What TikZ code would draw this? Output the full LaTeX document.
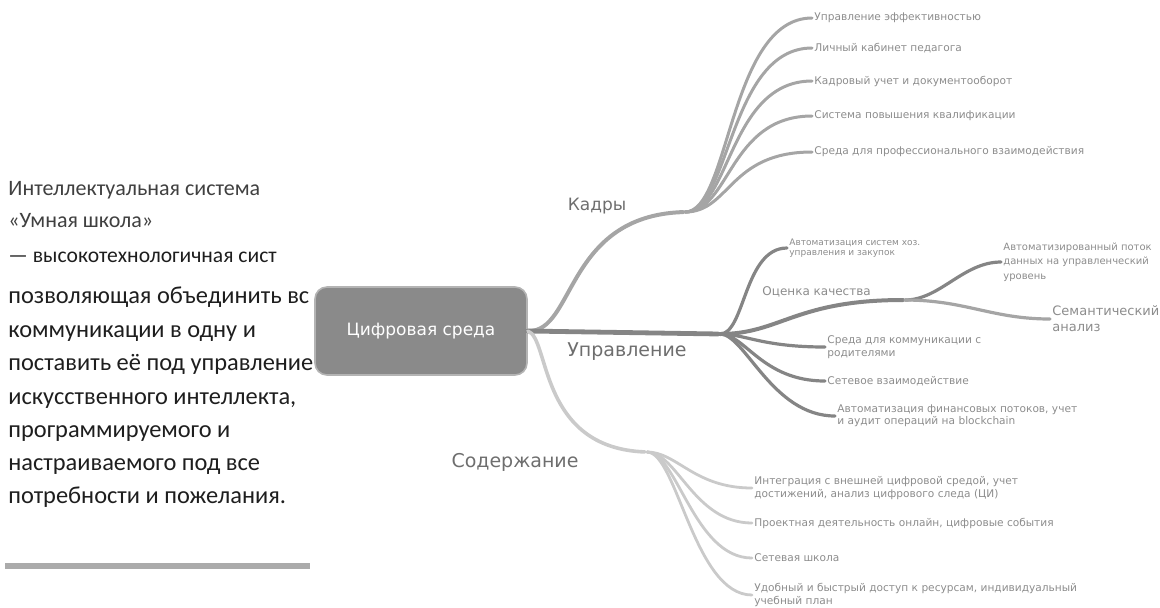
\documentclass[tikz,border=0pt]{standalone}
\usepackage{fontspec}
\newfontfamily\leftfont{Carlito}
\newfontfamily\mapfont{DejaVu Sans}
\definecolor{kcol}{HTML}{A5A5A5}
\definecolor{ucol}{HTML}{858585}
\definecolor{scol}{HTML}{CACACA}
\definecolor{branchtext}{HTML}{6E6E6E}
\definecolor{leaftext}{HTML}{8C8C8C}
\definecolor{bodytext}{HTML}{1E1E1E}
\definecolor{titletext}{HTML}{404040}
\definecolor{rootfill}{HTML}{8A8A8A}
\definecolor{rootdraw}{HTML}{B4B4B4}
\definecolor{rulecol}{HTML}{ABABAB}

\begin{document}
\begin{tikzpicture}[x=0.5pt,y=-0.5pt,line cap=round,shorten >=1pt]
                \tikzstyle{leaf}=[anchor=west,inner sep=0pt,align=left,text=leaftext,font=\mapfont\fontsize{5.3}{6.2}\selectfont]
                \tikzstyle{branch}=[inner sep=0pt,text=branchtext,font=\mapfont\fontsize{9.5}{11}\selectfont]
                \tikzstyle{titleline}=[anchor=base west,inner sep=0pt,text=titletext,font=\leftfont\fontsize{11}{13}\selectfont]
                \tikzstyle{bodyline}=[anchor=base west,inner sep=0pt,text=bodytext,font=\leftfont\fontsize{12.2}{15}\selectfont]
                \tikzstyle{kline}=[draw=kcol,line width=1.5pt]
                \tikzstyle{uline}=[draw=ucol,line width=1.6pt]
                \tikzstyle{sline}=[draw=scol,line width=1.4pt]
                \useasboundingbox (0,0) rectangle (1160,607);

                % text on the left
                        \node[titleline] (T-1) at (8,195) {Интеллектуальная система};
                        \node[titleline] (T-2) at (8,227) {«Умная школа»};
                        \node[bodyline,font=\leftfont\fontsize{10.8}{13}\selectfont] (B-1) at (8,262) {— высокотехнологичная сист};
                    \foreach \n/\y/\t in {2/303/{позволяющая объединить вс},
                                          3/337/{коммуникации в одну и}, 4/370/{поставить её под управление},
                                          5/404/{искусственного интеллекта,}, 6/437/{программируемого и},
                                          7/470/{настраиваемого под все}, 8/503/{потребности и пожелания.}}
                        \node[bodyline] (B-\n) at (8,\y) {\t};
                        \draw[rulecol,line width=3pt,line cap=butt] (5,566) -- (312,566);

                % centre
                        \node[rounded corners=6pt,fill=rootfill,draw=rootdraw,line width=0.8pt,text=white,
                              minimum width=106pt,minimum height=44pt,font=\mapfont\fontsize{8.5}{10}\selectfont]
                              (C) at (421,331) {Цифровая среда};

                % branch labels and hubs
                        \node[branch,font=\mapfont\fontsize{8.5}{10}\selectfont] (kadry) at (597,206) {Кадры};
                        \node[branch] (uprav) at (627,352) {Управление};
                        \node[branch] (soder) at (515,462) {Содержание};
                        \node[leaf,font=\mapfont\fontsize{6}{7}\selectfont] (ocenka) at (762,292) {Оценка качества};
                        \coordinate (K) at (685,212);
                        \coordinate (U) at (720,334);
                        \coordinate (O) at (905,300);
                        \coordinate (S) at (647,452);

                % leaves
                        \node[leaf] (K-1) at (814,18) {Управление эффективностью};
                        \node[leaf] (K-2) at (814,48) {Личный кабинет педагога};
                        \node[leaf] (K-3) at (814,81) {Кадровый учет и документооборот};
                        \node[leaf] (K-4) at (814,116) {Система повышения квалификации};
                        \node[leaf] (K-5) at (814,152) {Среда для профессионального взаимодействия};
                        \node[leaf,font=\mapfont\fontsize{4.5}{5.2}\selectfont] (U-1) at (789,248) {Автоматизация систем хоз.\\управления и закупок};
                        \node[leaf,font=\mapfont\fontsize{5}{7.2}\selectfont] (O-1) at (1003,262) {Автоматизированный поток\\данных на управленческий\\уровень};
                        \node[leaf,font=\mapfont\fontsize{6.5}{8}\selectfont] (O-2) at (1052,319) {Семантический\\анализ};
                        \node[leaf] (U-2) at (827,347) {Среда для коммуникации с\\родителями};
                        \node[leaf] (U-3) at (827,381) {Сетевое взаимодействие};
                        \node[leaf] (U-4) at (837,416) {Автоматизация финансовых потоков, учет\\и аудит операций на blockchain};
                        \node[leaf] (S-1) at (754,488) {Интеграция с внешней цифровой средой, учет\\достижений, анализ цифрового следа (ЦИ)};
                        \node[leaf] (S-2) at (754,523) {Проектная деятельность онлайн, цифровые события};
                        \node[leaf] (S-3) at (754,558) {Сетевая школа};
                        \node[leaf] (S-4) at (754,595) {Удобный и быстрый доступ к ресурсам, индивидуальный\\учебный план};

                % connectors
                        \draw[kline,line width=2pt] (C.east) .. controls (575,333) and (565,216) .. (K);
                    \foreach \to in {1,...,5}
                        \draw[kline] (K) .. controls +(45,0) and +(-85,0) .. (K-\to.west);
                        \draw[uline,line width=2.4pt] (C.east) -- (U);
                        \draw[uline] (U) .. controls +(25,0) and +(-45,0) .. (U-1.west);
                        \draw[uline,line width=2pt] (U) .. controls +(60,0) and +(-110,0) .. (O);
                        \draw[uline] (O) .. controls +(35,0) and +(-40,0) .. (O-1.west);
                        \draw[uline,draw=kcol] (O) .. controls +(60,0) and +(-60,0) .. (O-2.west);
                    \foreach \to in {2,3,4}
                        \draw[uline] (U) .. controls +(25,0) and +(-65,0) .. (U-\to.west);
                        \draw[sline,line width=1.8pt] (C.east) .. controls (550,338) and (538,448) .. (S);
                    \foreach \to in {1,...,4}
                        \draw[sline] (S) .. controls +(30,0) and +(-60,0) .. (S-\to.west);
            \end{tikzpicture}
\end{document}
